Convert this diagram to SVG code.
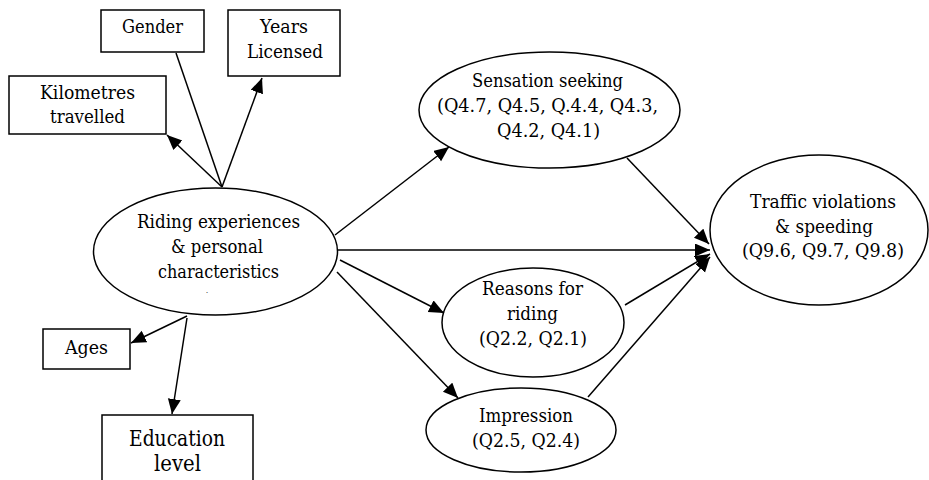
<svg xmlns="http://www.w3.org/2000/svg" width="929" height="480" viewBox="0 0 929 480">
<style>
.n{fill:#fff;stroke:#000;stroke-width:1.5}
.t{font-family:'DejaVu Serif',serif;font-size:19px;fill:#000;text-anchor:middle}
.e{font-size:22px}
.c line{stroke:#000;stroke-width:1.5}
</style>
<defs>
<marker id="a" markerUnits="userSpaceOnUse" markerWidth="17" markerHeight="14" refX="15" refY="6.5" orient="auto">
<path d="M0,0 L15,6.5 L0,13 Z" fill="#000"/>
</marker>
</defs>
<rect width="929" height="480" fill="#fff"/>
<g id="gender"><rect class="n" x="101" y="10" width="103" height="42"/><text class="t" x="152.5" y="33" textLength="61" lengthAdjust="spacingAndGlyphs">Gender</text></g>
<g id="years"><rect class="n" x="228" y="10" width="112" height="66"/><text class="t" x="284" y="33" textLength="48" lengthAdjust="spacingAndGlyphs">Years</text><text class="t" x="285" y="58" textLength="76" lengthAdjust="spacingAndGlyphs">Licensed</text></g>
<g id="km"><rect class="n" x="9" y="76" width="157" height="58"/><text class="t" x="87.5" y="99" textLength="95" lengthAdjust="spacingAndGlyphs">Kilometres</text><text class="t" x="87.5" y="123" textLength="75" lengthAdjust="spacingAndGlyphs">travelled</text></g>
<g id="ages"><rect class="n" x="43" y="329" width="87" height="40"/><text class="t" x="86.5" y="354" textLength="43" lengthAdjust="spacingAndGlyphs">Ages</text></g>
<g id="edu"><rect class="n" x="102" y="415" width="151" height="80"/><text class="t e" x="177" y="446" textLength="96" lengthAdjust="spacingAndGlyphs">Education</text><text class="t e" x="177.5" y="471" textLength="47" lengthAdjust="spacingAndGlyphs">level</text></g>
<g id="main"><ellipse class="n" cx="215.5" cy="251.5" rx="122" ry="63.5"/><text class="t" x="218.5" y="228" textLength="163" lengthAdjust="spacingAndGlyphs">Riding experiences</text><text class="t" x="217" y="253" textLength="92" lengthAdjust="spacingAndGlyphs">&amp; personal</text><text class="t" x="218.5" y="278" textLength="121" lengthAdjust="spacingAndGlyphs">characteristics</text><text class="t" x="207" y="293" style="font-size:8px">.</text></g>
<g id="sensation"><ellipse class="n" cx="549.5" cy="110" rx="130.5" ry="58"/><text class="t" x="547.5" y="87" textLength="151" lengthAdjust="spacingAndGlyphs">Sensation seeking</text><text class="t" x="547.5" y="112" textLength="221" lengthAdjust="spacingAndGlyphs">(Q4.7, Q4.5, Q.4.4, Q4.3,</text><text class="t" x="548.5" y="137" textLength="103" lengthAdjust="spacingAndGlyphs">Q4.2, Q4.1)</text></g>
<g id="reasons"><ellipse class="n" cx="533" cy="322.5" rx="91" ry="54.5"/><text class="t" x="532.5" y="295" textLength="101" lengthAdjust="spacingAndGlyphs">Reasons for</text><text class="t" x="532.5" y="320" textLength="51" lengthAdjust="spacingAndGlyphs">riding</text><text class="t" x="533" y="345" textLength="108" lengthAdjust="spacingAndGlyphs">(Q2.2, Q2.1)</text></g>
<g id="impression"><ellipse class="n" cx="521" cy="430" rx="95" ry="42"/><text class="t" x="526" y="422" textLength="94" lengthAdjust="spacingAndGlyphs">Impression</text><text class="t" x="526" y="447" textLength="108" lengthAdjust="spacingAndGlyphs">(Q2.5, Q2.4)</text></g>
<g id="traffic"><ellipse class="n" cx="819" cy="230" rx="109" ry="75"/><text class="t" x="823" y="208" textLength="146" lengthAdjust="spacingAndGlyphs">Traffic violations</text><text class="t" x="824" y="233" textLength="98" lengthAdjust="spacingAndGlyphs">&amp; speeding</text><text class="t" x="823" y="257" textLength="162" lengthAdjust="spacingAndGlyphs">(Q9.6, Q9.7, Q9.8)</text></g>
<g class="c" id="connectors">
<line x1="222" y1="187" x2="176" y2="53"/>
<line x1="222" y1="187" x2="167" y2="135" marker-end="url(#a)"/>
<line x1="222" y1="187" x2="262" y2="78" marker-end="url(#a)"/>
<line x1="187" y1="316" x2="131" y2="343" marker-end="url(#a)"/>
<line x1="187" y1="318" x2="172" y2="414" marker-end="url(#a)"/>
<line x1="335" y1="235" x2="449" y2="147" marker-end="url(#a)"/>
<line x1="340" y1="260" x2="444" y2="313" marker-end="url(#a)"/>
<line x1="337" y1="272" x2="458" y2="398" marker-end="url(#a)"/>
<line x1="338" y1="250" x2="710" y2="250" marker-end="url(#a)"/>
<line x1="627" y1="158" x2="709" y2="244" marker-end="url(#a)"/>
<line x1="625" y1="305" x2="710" y2="254" marker-end="url(#a)"/>
<line x1="588" y1="397" x2="710" y2="257" marker-end="url(#a)"/>
</g>
</svg>
